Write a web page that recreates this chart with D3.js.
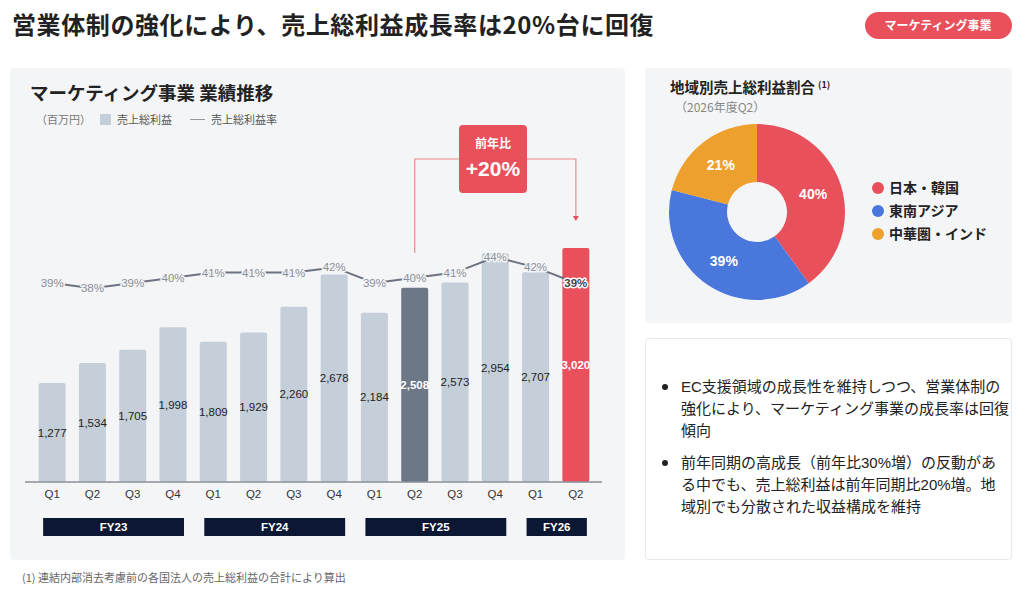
<!DOCTYPE html>
<html>
<head>
<meta charset="utf-8">
<title>マーケティング事業 業績推移</title>
<script src="https://d3js.org/d3.v7.min.js"></script>
<style>
  html, body { margin: 0; padding: 0; background: #fff; }
  svg { display: block; font-family: "Noto Sans CJK JP", "Noto Sans", sans-serif; }
  .num { font-family: "Liberation Sans", Arial, "Noto Sans CJK JP", sans-serif; }
  .halo { paint-order: stroke; stroke: #f4f5f7; stroke-width: 3px; stroke-linejoin: round; }
</style>
</head>
<body>
<div id="chart"></div>
<script>
// ---- data ----
const quarters = ["Q1","Q2","Q3","Q4","Q1","Q2","Q3","Q4","Q1","Q2","Q3","Q4","Q1","Q2"];
const fiscalYears = ["FY23","FY23","FY23","FY23","FY24","FY24","FY24","FY24","FY25","FY25","FY25","FY25","FY26","FY26"];
const grossProfit = [1277,1534,1705,1998,1809,1929,2260,2678,2184,2508,2573,2954,2707,3020];
const grossMargin = [39,38,39,40,41,41,41,42,39,40,41,44,42,39];

const regions = ["日本・韓国","東南アジア","中華圏・インド"];
const regionShare = [40,39,21];

const bullets = [
  ["EC支援領域の成長性を維持しつつ、営業体制の","強化により、マーケティング事業の成長率は回復","傾向"],
  ["前年同期の高成長（前年比30%増）の反動があ","る中でも、売上総利益は前年同期比20%増。地","域別でも分散された収益構成を維持"]
];

const W = 1024, H = 592;
const svg = d3.select("#chart").append("svg").attr("width", W).attr("height", H);

// page title + badge
svg.append("text").attr("x", 12).attr("y", 34)
  .attr("font-size", 24).attr("font-weight", 700).attr("fill", "#222").attr("letter-spacing", 0.6)
  .text("営業体制の強化により、売上総利益成長率は20%台に回復");
svg.append("rect").attr("x", 865).attr("y", 12).attr("width", 147).attr("height", 27)
  .attr("rx", 13.5).attr("fill", "#e8505b");
svg.append("text").attr("x", 938).attr("y", 30).attr("text-anchor", "middle")
  .attr("font-size", 12).attr("font-weight", 700).attr("fill", "#fff").text("マーケティング事業");

// panels
svg.append("rect").attr("x", 10).attr("y", 68).attr("width", 615).attr("height", 492).attr("rx", 4).attr("fill", "#f4f5f7");
svg.append("rect").attr("x", 645).attr("y", 68).attr("width", 367).attr("height", 255).attr("rx", 4).attr("fill", "#f4f5f7");
svg.append("rect").attr("x", 645.5).attr("y", 338.5).attr("width", 366).attr("height", 221).attr("rx", 3)
  .attr("fill", "#fff").attr("stroke", "#e6e8eb");

// ---- bar chart ----
const left = svg.append("g");
left.append("text").attr("x", 30).attr("y", 100).attr("font-size", 18.5).attr("font-weight", 700).attr("fill", "#222")
  .text("マーケティング事業 業績推移");
left.append("text").attr("x", 36).attr("y", 124).attr("font-size", 11).attr("fill", "#777").text("（百万円）");
left.append("rect").attr("x", 100).attr("y", 114).attr("width", 11).attr("height", 11).attr("fill", "#c5cfd9");
left.append("text").attr("x", 117).attr("y", 124).attr("font-size", 11).attr("fill", "#555").text("売上総利益");
left.append("line").attr("x1", 190).attr("x2", 205).attr("y1", 119.5).attr("y2", 119.5).attr("stroke", "#999").attr("stroke-width", 1);
left.append("text").attr("x", 211).attr("y", 124).attr("font-size", 11).attr("fill", "#555").text("売上総利益率");

const idx = d3.range(quarters.length);
const x = d3.scaleBand().domain(idx).range([32, 596]).paddingInner(0.33).paddingOuter(0.165);
const y = d3.scaleLinear().domain([0, 3500]).range([482, 482 - 3500 * 0.0775]);
const y2 = d3.scaleLinear().domain([30, 50]).range([329.8, 225.8]);

const barColor = i => i === 13 ? "#e8505b" : (i === 9 ? "#6d7886" : "#c5cfd9");

left.selectAll(".bar").data(idx).join("rect").attr("class", "bar")
  .attr("x", i => x(i)).attr("width", x.bandwidth())
  .attr("y", i => y(grossProfit[i])).attr("height", i => y(0) - y(grossProfit[i]))
  .attr("rx", 2).attr("fill", barColor);

// baseline
left.append("line").attr("x1", 25).attr("x2", 602).attr("y1", y(0)).attr("y2", y(0))
  .attr("stroke", "#8a8f98").attr("stroke-width", 1.5);

// bar values
left.selectAll(".val").data(idx).join("text").attr("class", "val num")
  .attr("x", i => x(i) + x.bandwidth() / 2)
  .attr("y", i => (y(grossProfit[i]) + y(0)) / 2 + 4)
  .attr("text-anchor", "middle").attr("font-size", 11.5)
  .attr("fill", i => (i === 9 || i === 13) ? "#fff" : "#222")
  .attr("font-weight", i => (i === 9 || i === 13) ? 700 : 400)
  .text(i => d3.format(",")(grossProfit[i]));

// quarter labels
left.selectAll(".q").data(idx).join("text").attr("class", "q num")
  .attr("x", i => x(i) + x.bandwidth() / 2).attr("y", 498)
  .attr("text-anchor", "middle").attr("font-size", 11.5).attr("fill", "#333")
  .text(i => quarters[i]);

// fiscal year boxes
const fyGroups = d3.groups(idx, i => fiscalYears[i]);
fyGroups.forEach(([fy, arr]) => {
  const x0 = x(arr[0]) + x.bandwidth() / 2 - 9;
  const x1 = x(arr[arr.length - 1]) + x.bandwidth() / 2 + 11;
  left.append("rect").attr("x", x0).attr("y", 518).attr("width", x1 - x0).attr("height", 18).attr("fill", "#0b1733");
  left.append("text").attr("class", "num").attr("x", (x0 + x1) / 2).attr("y", 531).attr("text-anchor", "middle")
    .attr("font-size", 11.5).attr("font-weight", 700).attr("fill", "#fff").text(fy);
});

// margin line
const line = d3.line().x(i => x(i) + x.bandwidth() / 2).y(i => y2(grossMargin[i]));
left.append("path").datum(idx).attr("d", line).attr("fill", "none")
  .attr("stroke", "#6b7280").attr("stroke-width", 2);
left.selectAll(".rate").data(idx).join("text").attr("class", "rate num halo")
  .attr("x", i => x(i) + x.bandwidth() / 2).attr("y", i => y2(grossMargin[i]) + 4)
  .attr("text-anchor", "middle").attr("font-size", 11.5)
  .attr("fill", i => i === 13 ? "#444" : "#8a8f98")
  .attr("font-weight", i => i === 13 ? 700 : 400)
  .style("stroke", i => i === 13 ? "#fff" : null)
  .text(i => grossMargin[i] + "%");

// YoY annotation
const cxA = x(9) + x.bandwidth() / 2, cxB = x(13) + x.bandwidth() / 2;
const annoY = 159;
left.append("path")
  .attr("d", `M${cxA},${y(grossProfit[9]) - 35} V${annoY} H459 M527,${annoY} H${cxB} V${y(grossProfit[13]) - 30}`)
  .attr("fill", "none").attr("stroke", "#ee8a90").attr("stroke-width", 1.2);
left.append("path")
  .attr("d", `M${cxB - 3},${y(grossProfit[13]) - 32} L${cxB + 3},${y(grossProfit[13]) - 32} L${cxB},${y(grossProfit[13]) - 27} Z`)
  .attr("fill", "#e8505b");
left.append("rect").attr("x", 459).attr("y", 125).attr("width", 68).attr("height", 68).attr("rx", 4).attr("fill", "#e8505b");
left.append("text").attr("x", 493).attr("y", 148).attr("text-anchor", "middle").attr("font-size", 12)
  .attr("font-weight", 700).attr("fill", "#fff").text("前年比");
left.append("text").attr("class", "num").attr("x", 493).attr("y", 176).attr("text-anchor", "middle").attr("font-size", 21)
  .attr("font-weight", 700).attr("fill", "#fff").text("+20%");

// ---- donut ----
const right = svg.append("g");
const ttl = right.append("text").attr("x", 670).attr("y", 93).attr("font-size", 14.5).attr("font-weight", 700).attr("fill", "#222");
ttl.append("tspan").text("地域別売上総利益割合");
ttl.append("tspan").attr("dx", 3).attr("dy", -5).attr("font-size", 9).text("(1)");
right.append("text").attr("x", 675).attr("y", 112).attr("font-size", 12).attr("fill", "#888").text("（2026年度Q2）");

const pieColors = ["#e8505b", "#4a77db", "#eda02e"];
const pie = d3.pie().sort(null).value(d => d)(regionShare);
const arc = d3.arc().innerRadius(30).outerRadius(88);
const labelArc = d3.arc().innerRadius(59).outerRadius(59);
const donut = right.append("g").attr("transform", "translate(757,212)");
donut.selectAll("path").data(pie).join("path").attr("d", arc).attr("fill", (d, i) => pieColors[i]);
donut.selectAll("text").data(pie).join("text").attr("class", "num")
  .attr("transform", d => `translate(${labelArc.centroid(d)})`).attr("dy", 5)
  .attr("text-anchor", "middle").attr("font-size", 14).attr("font-weight", 700).attr("fill", "#fff")
  .text(d => d.data + "%");

const legend = right.selectAll(".lg").data(regions).join("g").attr("class", "lg")
  .attr("transform", (d, i) => `translate(878,${188 + i * 23})`);
legend.append("circle").attr("r", 6).attr("fill", (d, i) => pieColors[i]);
legend.append("text").attr("x", 11).attr("y", 5).attr("font-size", 14).attr("font-weight", 700).attr("fill", "#222").text(d => d);

// ---- bullet text ----
const lineH = 22;
bullets.forEach((lines, b) => {
  const top = 392 + b * 76;
  svg.append("circle").attr("cx", 665).attr("cy", top - 5).attr("r", 3).attr("fill", "#222");
  const t = svg.append("text").attr("class", "num").attr("font-size", 15).attr("fill", "#222");
  lines.forEach((s, k) => t.append("tspan").attr("x", 681).attr("y", top + k * lineH).text(s));
});

// footer
svg.append("text").attr("x", 22).attr("y", 582).attr("font-size", 11).attr("fill", "#666")
  .text("(1) 連結内部消去考慮前の各国法人の売上総利益の合計により算出");
</script>
</body>
</html>
